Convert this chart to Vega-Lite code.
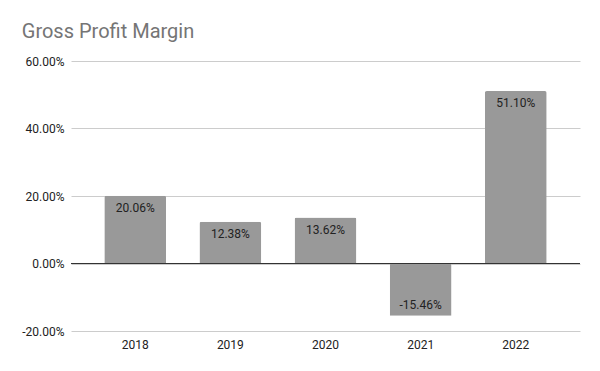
{
  "$schema": "https://vega.github.io/schema/vega-lite/v6.json",
  "width": 509,
  "height": 270,
  "autosize": {"type": "none"},
  "padding": {"left": 71, "top": 61, "right": 20, "bottom": 40},
  "background": "white",
  "title": {
    "text": "Gross Profit Margin",
    "anchor": "start",
    "dx": 0,
    "offset": 13,
    "font": "Roboto",
    "fontSize": 20,
    "fontWeight": "normal",
    "color": "#757575"
  },
  "data": {
    "values": [
      {"year": "2018", "margin": 0.2006},
      {"year": "2019", "margin": 0.1238},
      {"year": "2020", "margin": 0.1362},
      {"year": "2021", "margin": -0.1546},
      {"year": "2022", "margin": 0.511}
    ]
  },
  "encoding": {
    "x": {
      "field": "year",
      "type": "nominal",
      "scale": {"paddingInner": 0.35, "paddingOuter": 0.35},
      "axis": {
        "title": null,
        "labelAngle": 0,
        "domain": false,
        "ticks": false,
        "labelPadding": 8,
        "labelFont": "Roboto",
        "labelFontSize": 12,
        "labelColor": "#222222"
      }
    },
    "y": {
      "field": "margin",
      "type": "quantitative",
      "scale": {"domain": [-0.2, 0.6], "nice": false, "zero": false},
      "axis": {
        "title": null,
        "format": ".2%",
        "values": [-0.2, 0, 0.2, 0.4, 0.6],
        "domain": false,
        "ticks": false,
        "labelPadding": 7,
        "labelFont": "Roboto",
        "labelFontSize": 12,
        "labelColor": "#222222",
        "gridColor": "#cccccc",
        "gridWidth": 1
      }
    }
  },
  "layer": [
    {
      "mark": {"type": "bar", "color": "#999999", "cornerRadiusEnd": 2}
    },
    {
      "mark": {"type": "rule", "color": "#333333", "strokeWidth": 1},
      "encoding": {"x": null, "y": {"datum": 0, "type": "quantitative"}}
    },
    {
      "transform": [{"filter": "datum.margin >= 0"}],
      "mark": {"type": "text", "baseline": "top", "dy": 7, "font": "Roboto", "fontSize": 12, "color": "#222222"},
      "encoding": {"text": {"field": "margin", "type": "quantitative", "format": ".2%"}}
    },
    {
      "transform": [{"filter": "datum.margin < 0"}],
      "mark": {"type": "text", "baseline": "bottom", "dy": -4, "font": "Roboto", "fontSize": 12, "color": "#222222"},
      "encoding": {"text": {"field": "margin", "type": "quantitative", "format": ".2%"}}
    }
  ],
  "config": {
    "view": {"stroke": null},
    "locale": {
      "number": {
        "decimal": ".",
        "thousands": ",",
        "grouping": [3],
        "currency": ["$", ""],
        "minus": "-"
      }
    }
  }
}
